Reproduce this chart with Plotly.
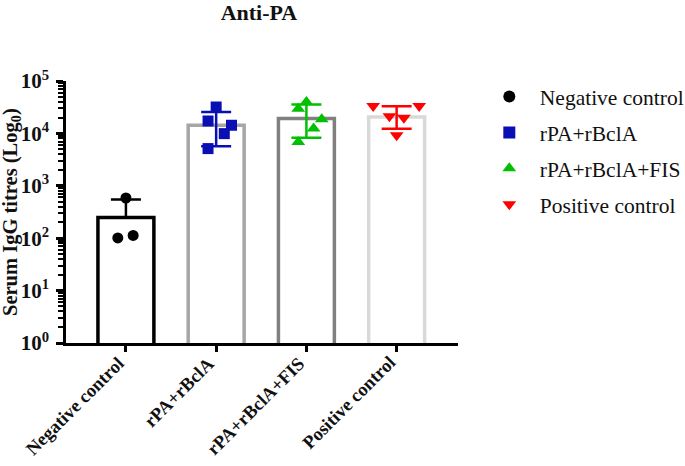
import plotly.graph_objects as go

groups = ["Negative control", "rPA+rBclA", "rPA+rBclA+FIS", "Positive control"]
bar_means = [247, 14300, 19200, 20500]
err_upper = [546, 25600, 35500, 32900]
err_lower = [247, 5700, 8300, 12300]
points = [
    [585, 101, 113],
    [31900, 17250, 14300, 9900, 5130],
    [39800, 29700, 18600, 12350, 6850],
    [33300, 33300, 21200, 19950, 9200],
]
jitter = [
    [0.0, -0.09, 0.08],
    [0.0, -0.09, 0.17, 0.09, -0.09],
    [0.0, -0.09, 0.17, 0.08, -0.09],
    [-0.26, 0.25, -0.08, 0.08, 0.0],
]
stars = ["", "***", "***", "**"]
major_ticks = [1, 10, 100, 1000, 10000, 100000]
bar_colors = ["#000000", "#a6a6a6", "#808080", "#d9d9d9"]
pt_colors = ["#000000", "#0a0fb4", "#00c000", "#ff0000"]
symbols = ["circle", "square", "triangle-up", "triangle-down"]
sizes = [11, 11, 12, 12]

minor_ticks = [m * t for t in major_ticks[:-1] for m in range(2, 10)]
SERIF = "Liberation Serif, Times New Roman, serif"

fig = go.Figure()
for i, g in enumerate(groups):
    fig.add_trace(go.Bar(
        x=[i], y=[bar_means[i]], width=0.62,
        marker=dict(color="white", line=dict(color=bar_colors[i], width=3.5)),
        error_y=dict(type="data", symmetric=False,
                     array=[err_upper[i] - bar_means[i]],
                     arrayminus=[0 if i == 0 else bar_means[i] - err_lower[i]],
                     color=pt_colors[i], thickness=2.5, width=15),
        showlegend=False, hoverinfo="skip",
    ))
for i, g in enumerate(groups):
    fig.add_trace(go.Scatter(
        x=[i + j for j in jitter[i]], y=points[i], mode="markers", name=g,
        legendgroup=g,
        marker=dict(symbol=symbols[i], color=pt_colors[i], size=sizes[i]),
        cliponaxis=False,
    ))

for i, s in enumerate(stars):
    if s:
        fig.add_annotation(x=i, y=5.28 if len(s) == 3 else 5.36, text=s, showarrow=False,
                           yanchor="middle",
                           font=dict(family="Liberation Sans, Arial", size=20, color="#222"))

for i, g in enumerate(groups):
    fig.add_annotation(x=i, y=0, yref="paper", text="<b>" + g + "</b>", showarrow=False,
                       textangle=-45, xanchor="right", yanchor="top", xshift=5, yshift=-7,
                       font=dict(family=SERIF, size=18.5, color="#111"))

fig.add_annotation(x=0, xref="paper", y=0.5, yref="paper", xshift=-55,
                   text="<b>Serum IgG titres (Log<sub>0</sub>)</b>", showarrow=False,
                   textangle=-90, xanchor="center", yanchor="middle",
                   font=dict(family=SERIF, size=20.5, color="#111"))

fig.update_layout(
    width=685, height=466,
    margin=dict(l=66, r=227, t=81, b=123, autoexpand=False),
    paper_bgcolor="white", plot_bgcolor="white",
    title=dict(text="<b>Anti-PA</b>", x=0.378, xanchor="center", y=0.974,
               yanchor="middle", automargin=False,
               font=dict(family=SERIF, size=22, color="#111")),
    barmode="overlay",
    legend=dict(x=0.699, y=0.837, xref="container", yref="container",
                xanchor="left", yanchor="top",
                font=dict(family=SERIF, size=21.5, color="#111"),
                itemsizing="constant", tracegroupgap=5, itemwidth=51),
    font=dict(family=SERIF, color="#111"),
)
fig.update_xaxes(
    range=[-0.664, 3.68], tickmode="array", tickvals=[0, 1, 2, 3],
    showticklabels=False, automargin=False,
    showline=True, linecolor="black", linewidth=2.5,
    ticks="outside", ticklen=6, tickwidth=2.5, tickcolor="black",
    showgrid=False, zeroline=False,
)
fig.update_yaxes(
    type="log", range=[0, 5], automargin=False,
    tickmode="array", tickvals=major_ticks,
    ticktext=["<b>10<sup>%d</sup></b>" % k for k in range(len(major_ticks))],
    showline=True, linecolor="black", linewidth=2.5,
    ticks="outside", ticklen=7, tickwidth=2.5, tickcolor="black",
    minor=dict(tickmode="array", tickvals=minor_ticks, ticks="outside", ticklen=5,
               tickwidth=2, tickcolor="black", showgrid=False),
    ticklabelstandoff=3,
    tickfont=dict(family=SERIF, size=21, color="#111"),
    showgrid=False, zeroline=False,
)
fig.write_html("out.html", config={"displayModeBar": False},
               post_script="document.body.style.margin='0px';")
